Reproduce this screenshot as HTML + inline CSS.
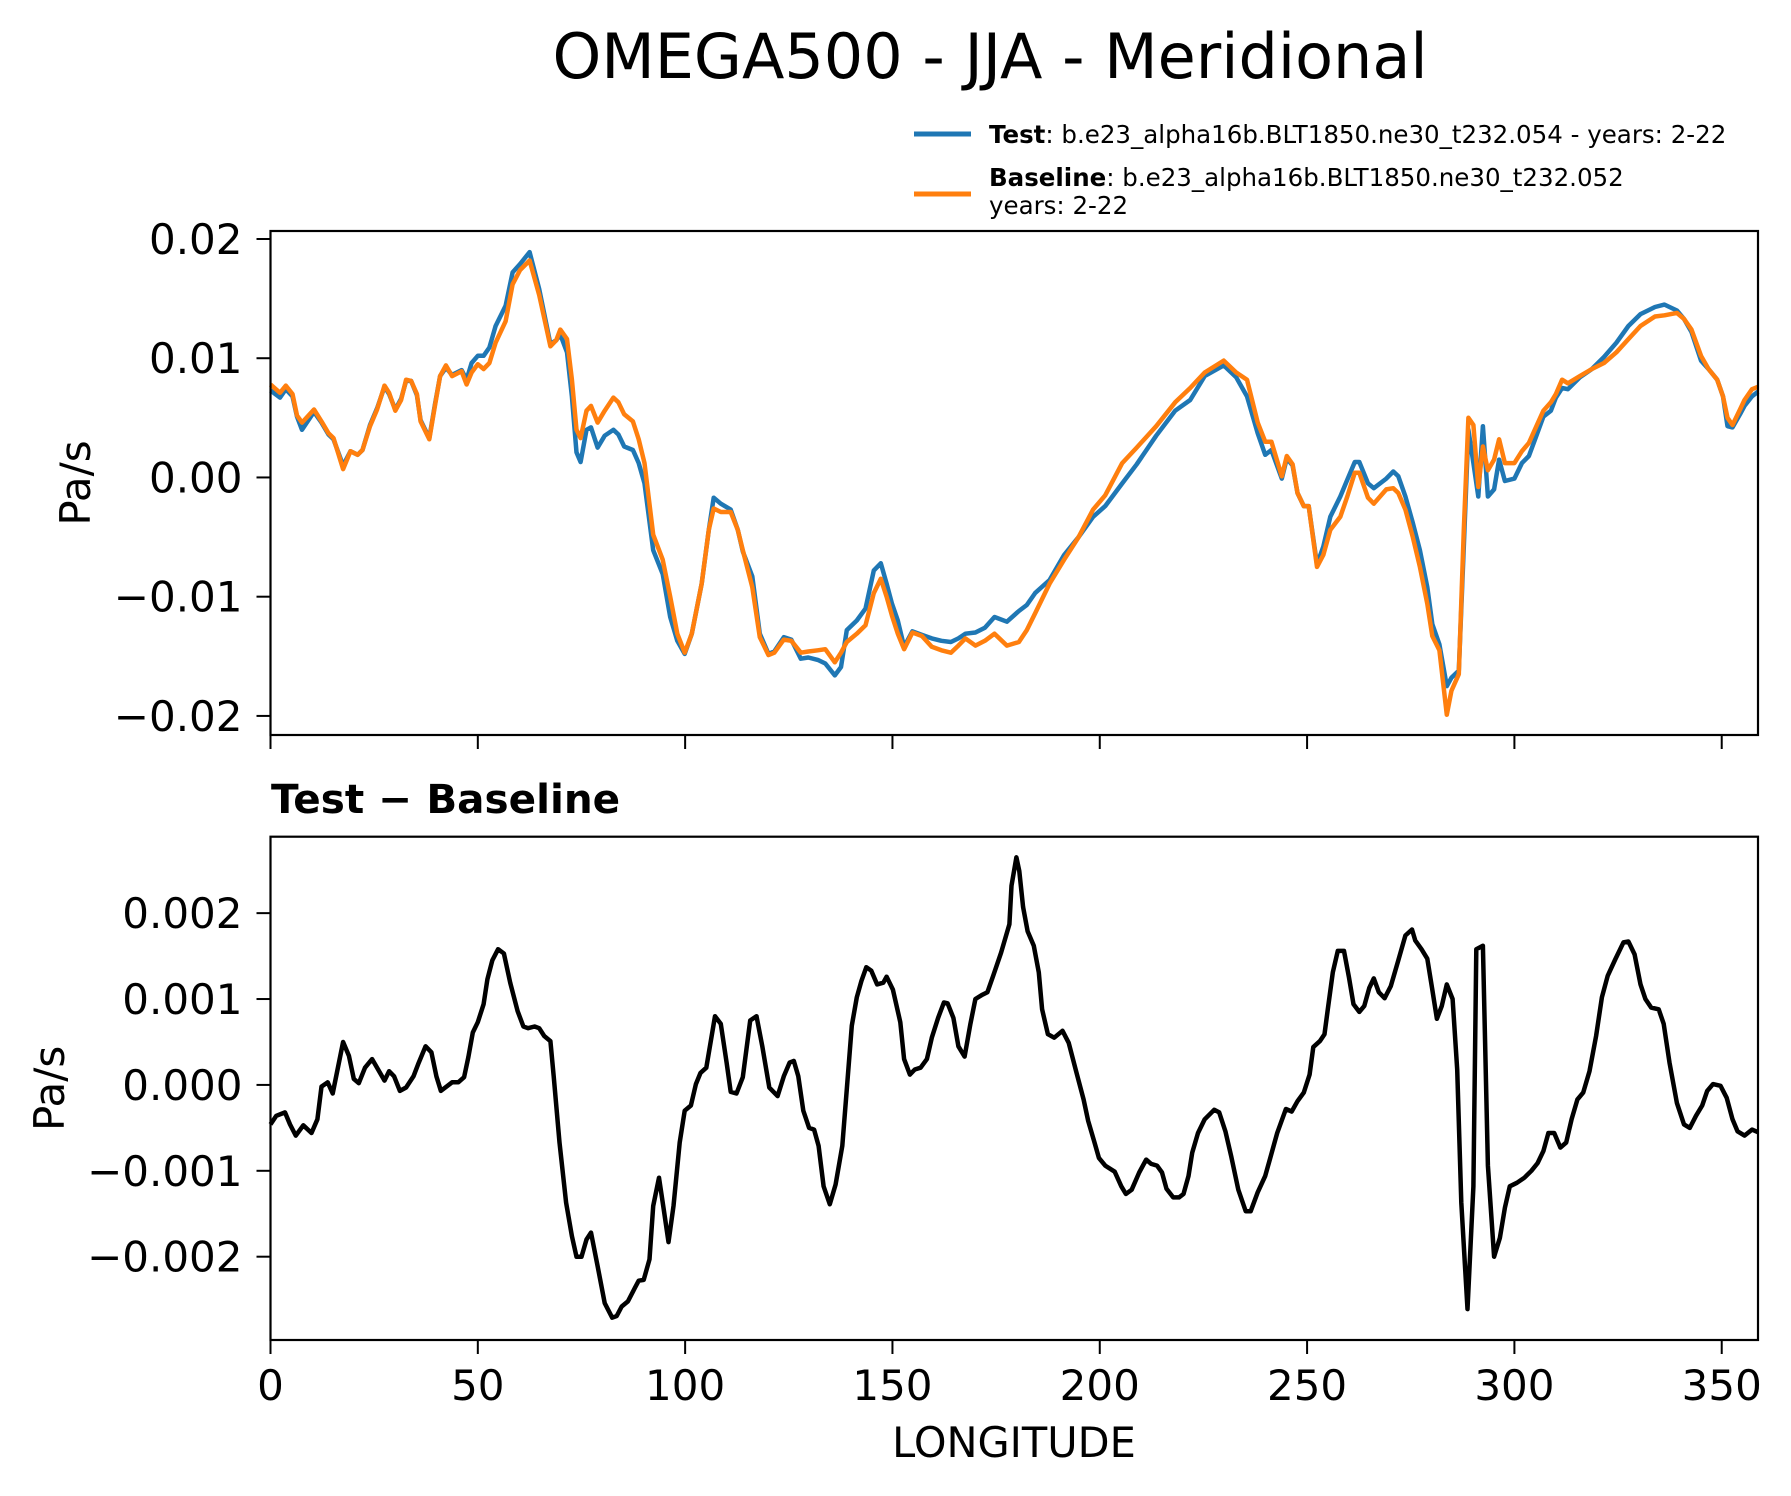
<!DOCTYPE html>
<html><head><meta charset="utf-8"><style>
html,body{margin:0;padding:0;background:#fff;}
svg{display:block;font-family:"DejaVu Sans","Liberation Sans",sans-serif;}
</style></head><body>
<svg id="fig" width="1791" height="1496" viewBox="0 0 1791 1496" xmlns="http://www.w3.org/2000/svg">
<rect width="1791" height="1496" fill="#fff"/>
<text x="990" y="78" font-size="62" text-anchor="middle">OMEGA500 - JJA - Meridional</text>
<g>
<line x1="914" y1="134" x2="971" y2="134" stroke="#1f77b4" stroke-width="5"/>
<text x="989" y="143" font-size="24.5"><tspan font-weight="bold">Test</tspan>: b.e23_alpha16b.BLT1850.ne30_t232.054 - years: 2-22</text>
<line x1="914" y1="194" x2="971" y2="194" stroke="#ff7f0e" stroke-width="5"/>
<text x="989" y="186" font-size="24.5"><tspan font-weight="bold">Baseline</tspan>: b.e23_alpha16b.BLT1850.ne30_t232.052</text>
<text x="989" y="214" font-size="24.5">years: 2-22</text>
</g>
<g id="top"></g>
<g id="bot"></g>
<text x="271" y="813" font-size="40.5" font-weight="bold">Test − Baseline</text>
<text x="1014" y="1457" font-size="41.5" text-anchor="middle">LONGITUDE</text>
</svg>
<script>
const xTicks = [0,50,100,150,200,250,300,350];
const topTicks = [-0.02,-0.01,0,0.01,0.02];
const topTickLabels = ["−0.02","−0.01","0.00","0.01","0.02"];
const botTicks = [-0.002,-0.001,0,0.001,0.002];
const botTickLabels = ["−0.002","−0.001","0.000","0.001","0.002"];
const lonTop = [0,2.3,3.7,5.3,6.4,7.6,10.5,12.3,14,15.2,17.5,19.3,21,22.2,24,25.7,27.5,28.6,30.1,31.5,32.7,33.9,35.3,36.2,38.3,39.7,40.9,42.3,43.8,46.1,47.3,48.5,50,51.4,52.8,54.3,56.7,58.4,60.2,62.5,64.8,67.5,68.9,69.9,71.5,72.7,73.8,74.8,76.2,77.3,78.9,80.6,82.7,83.9,85.3,87.4,88.8,90.2,92.3,94.6,96.4,98.1,99.9,101.6,104,105.7,106.9,108.6,111,112.7,113.9,116.2,118,120.1,121.5,123.8,125.6,127.9,129.7,132,133.8,136.1,137.6,139,141.4,143.5,145.5,147.2,148.6,149.9,151.3,152.8,154.8,157.1,159.5,161.8,164.1,165.9,167.6,170,172.3,174.6,177.6,180.5,182.4,184.4,187.9,191.4,194.9,198.4,201.3,205.4,208.9,213.6,218.2,221.8,225.3,229.9,232.9,235.5,238.1,239.9,241.4,243.9,245.1,246.5,247.7,249.2,250.4,252.4,253.9,255.6,258,259.7,261.5,262.6,264.7,266.1,269.1,270.8,272,273.7,275.5,277.2,279,280.2,281.9,283.7,284.8,286.6,287.8,288.9,290.1,291.3,292.4,293.6,295.1,296.3,297.7,300,301.8,303.5,305.3,307,308.8,310,311.5,312.9,315.8,318.7,321.6,324.6,327.5,330.4,333.9,336.2,339.2,340.9,342.7,345,346.8,348.9,350.3,351.4,352.6,354.4,355.5,357.3,358.75];
const testVals = [7.3,6.7,7.4,6.8,5.1,4.0,5.5,4.6,3.6,3.2,1.0,2.2,1.9,2.3,4.4,5.8,7.6,7.0,5.7,6.6,8.1,8.1,6.9,4.8,3.3,6.2,8.5,9.2,8.6,9.0,8.2,9.6,10.2,10.2,10.9,12.7,14.4,17.2,17.9,18.9,15.8,11.2,11.5,12.0,10.5,6.8,2.1,1.3,4.0,4.2,2.5,3.5,4.0,3.6,2.6,2.3,1.2,-0.5,-6.1,-8.1,-11.7,-13.7,-14.8,-13.1,-8.9,-4.4,-1.7,-2.2,-2.7,-4.4,-6.2,-8.3,-13.1,-14.8,-14.6,-13.4,-13.6,-15.2,-15.1,-15.3,-15.6,-16.6,-15.9,-12.8,-12.0,-11.0,-7.8,-7.2,-8.9,-10.6,-12.0,-14.2,-12.9,-13.2,-13.5,-13.7,-13.8,-13.5,-13.1,-13.0,-12.6,-11.7,-12.1,-11.2,-10.7,-9.7,-8.6,-6.5,-5.0,-3.3,-2.4,-0.5,1.1,3.5,5.6,6.5,8.5,9.4,8.4,6.8,3.7,1.9,2.3,-0.1,1.6,1.0,-1.3,-2.4,-2.4,-7.3,-5.8,-3.3,-1.6,-0.2,1.3,1.3,-0.5,-0.9,-0.1,0.5,0.1,-1.6,-3.8,-6.1,-9.2,-12.3,-14.0,-17.5,-16.8,-16.2,-5.8,4.0,1.2,-1.6,4.3,-1.6,-1.0,1.5,-0.3,-0.1,1.2,1.8,3.5,5.1,5.6,6.7,7.5,7.4,8.4,9.1,10.1,11.3,12.7,13.7,14.3,14.5,14.0,13.3,12.2,9.8,9.1,8.2,6.8,4.3,4.2,5.3,6.0,6.8,7.2];
const baseVals = [7.8,7.1,7.7,7.0,5.2,4.6,5.7,4.7,3.7,3.3,0.7,2.2,1.9,2.3,4.3,5.7,7.7,7.1,5.6,6.5,8.2,8.1,7.0,4.7,3.2,6.1,8.5,9.4,8.5,8.9,7.8,8.8,9.5,9.1,9.6,11.3,13.1,16.2,17.4,18.2,15.3,11.0,11.5,12.4,11.6,8.2,4.0,3.3,5.6,6.0,4.6,5.6,6.7,6.3,5.3,4.7,3.2,1.2,-4.8,-6.9,-10.0,-13.1,-14.7,-13.1,-8.9,-4.4,-2.6,-2.9,-2.9,-4.4,-6.1,-9.2,-13.4,-14.9,-14.7,-13.6,-13.7,-14.7,-14.6,-14.5,-14.4,-15.5,-14.7,-13.8,-13.1,-12.4,-9.7,-8.5,-10.0,-11.6,-13.1,-14.4,-13.0,-13.3,-14.2,-14.5,-14.7,-14.1,-13.5,-14.1,-13.7,-13.1,-14.1,-13.8,-12.8,-11.4,-8.9,-6.9,-5.0,-2.7,-1.5,1.2,2.5,4.3,6.3,7.5,8.8,9.8,8.8,8.2,4.6,3.0,3.0,0.1,1.8,1.1,-1.3,-2.4,-2.4,-7.5,-6.5,-4.4,-3.3,-1.6,0.4,0.4,-1.7,-2.2,-1.0,-0.9,-1.3,-2.7,-5.0,-7.5,-10.6,-13.3,-14.5,-19.9,-17.9,-16.5,-4.4,5.0,4.4,-0.8,2.6,0.6,1.5,3.2,1.2,1.2,2.2,2.9,4.3,5.6,6.3,7.0,8.2,7.9,8.5,9.1,9.6,10.5,11.6,12.7,13.5,13.6,13.8,13.3,12.4,10.2,9.1,8.2,6.8,5.0,4.4,5.7,6.5,7.4,7.6];
const lonDiff = [0,1.4,3.5,4.7,6.1,7.9,9.9,11.3,12.3,13.8,15,17.5,18.9,20.1,21.3,22.8,24.5,27.5,28.6,29.8,31.2,32.7,34.5,35.6,37.4,38.8,40,41.1,43.8,45.3,46.7,47.7,48.8,50,51.4,52.3,53.5,54.9,56.3,57.8,59.6,61,62.1,63.7,64.8,66,67.5,68.3,69.7,71.3,72.7,73.8,75,76.2,77.3,78.9,80.6,82.4,83.5,84.7,86.2,87.9,88.8,90,91.4,92.3,93.7,94.9,96,97.2,98.7,99.9,101.4,102.6,103.7,105.1,107.2,108.6,110,111,112.4,113.9,115.7,117.2,118.6,120.3,122.3,123.8,125.2,126.2,127.3,128.5,129.9,131.1,132.2,133.4,134.9,136.3,137.9,139,140.2,141.4,142.5,143.7,144.9,146.3,147.8,148.6,150.1,151.9,152.8,154.2,155.4,156.8,158.3,159.5,161,162.4,163.3,164.7,165.9,167.4,168.8,170,171.7,172.9,174.3,176.2,178.2,178.7,179.9,180.6,181.5,182.6,184.1,185.3,186.1,187.5,189,191,192.5,194.3,196.1,197.2,198.6,199.8,201.3,203.6,205.2,206.3,207.7,209.5,211.2,212.4,213.8,215,216.1,217.7,219.1,220.2,221.4,222.3,223.7,225.3,227.6,228.8,230.3,231.7,233.4,235.2,236.4,238.1,239.9,241,242.8,244.9,246.3,247.7,249.2,250.6,251.5,253.1,254.2,255,256.2,257.4,258.9,260.1,261.2,262.6,263.8,265,266.1,267.3,268.7,270.2,272,273.7,275.3,276.1,277.6,279,280.2,281.3,282.5,283.7,285.1,286.2,287.2,288.7,290.1,290.8,292.4,293.6,295.1,296.5,297.7,298.9,300.6,302.4,304.1,305.6,307,308.2,309.6,311.1,312.5,313.8,315.2,316.6,318.1,319.7,321.1,322.5,324.3,326.3,327.5,329,330.4,331.6,333,334.8,336,337.4,339.2,340.9,342.3,343.8,345.3,346.5,347.9,349.7,351.2,352.6,353.8,355.5,357.3,358.75];
const diffVals = [-0.46,-0.36,-0.32,-0.46,-0.59,-0.47,-0.56,-0.40,-0.02,0.03,-0.10,0.50,0.34,0.07,0.02,0.20,0.30,0.05,0.16,0.10,-0.07,-0.03,0.10,0.24,0.45,0.38,0.10,-0.07,0.03,0.03,0.09,0.32,0.61,0.73,0.94,1.23,1.45,1.58,1.53,1.19,0.86,0.68,0.66,0.68,0.66,0.57,0.51,0.10,-0.67,-1.37,-1.76,-2.00,-2.00,-1.80,-1.72,-2.11,-2.54,-2.71,-2.69,-2.58,-2.52,-2.36,-2.28,-2.27,-2.03,-1.41,-1.08,-1.47,-1.83,-1.41,-0.67,-0.30,-0.24,0.01,0.14,0.20,0.80,0.71,0.26,-0.08,-0.10,0.09,0.75,0.80,0.45,-0.03,-0.13,0.10,0.26,0.28,0.10,-0.30,-0.50,-0.52,-0.71,-1.18,-1.39,-1.16,-0.71,-0.05,0.69,1.02,1.21,1.37,1.33,1.17,1.19,1.26,1.11,0.73,0.30,0.12,0.18,0.20,0.30,0.55,0.78,0.96,0.95,0.78,0.45,0.33,0.71,1.00,1.05,1.08,1.27,1.54,1.87,2.32,2.65,2.49,2.07,1.79,1.62,1.31,0.88,0.59,0.55,0.63,0.49,0.16,-0.17,-0.42,-0.65,-0.85,-0.94,-1.01,-1.18,-1.27,-1.22,-1.02,-0.87,-0.92,-0.94,-1.02,-1.21,-1.31,-1.31,-1.27,-1.06,-0.79,-0.56,-0.40,-0.29,-0.32,-0.54,-0.83,-1.22,-1.47,-1.47,-1.25,-1.06,-0.87,-0.56,-0.28,-0.31,-0.19,-0.09,0.12,0.44,0.51,0.59,0.88,1.31,1.56,1.56,1.25,0.94,0.85,0.92,1.13,1.24,1.08,1.01,1.15,1.45,1.74,1.81,1.68,1.58,1.47,1.11,0.77,0.92,1.17,1.00,0.18,-1.37,-2.61,-1.18,1.58,1.62,-0.94,-2.00,-1.78,-1.43,-1.18,-1.14,-1.08,-1.00,-0.91,-0.77,-0.56,-0.56,-0.73,-0.67,-0.40,-0.17,-0.09,0.16,0.57,1.02,1.27,1.46,1.66,1.67,1.52,1.17,1.00,0.90,0.88,0.71,0.26,-0.21,-0.46,-0.50,-0.36,-0.24,-0.07,0.01,-0.01,-0.15,-0.40,-0.54,-0.59,-0.52,-0.55];

const NS = "http://www.w3.org/2000/svg";
const X0 = 270.5, X1 = 1758, XMAX = 358.75;
const FS = 42;
function xs(l){ return X0 + (l / XMAX) * (X1 - X0); }
function mk(tag, attrs, parent){
  const e = document.createElementNS(NS, tag);
  for (const k in attrs) e.setAttribute(k, attrs[k]);
  parent.appendChild(e);
  return e;
}
function axes(g, top, bottom, ymin, ymax, ticks, labels, withXLabels, prefix){
  const ys = v => bottom - (v - ymin) / (ymax - ymin) * (bottom - top);
  ticks.forEach((t, i) => {
    const y = ys(t);
    const tk = mk('line', {x1: X0 - 14, x2: X0, y1: y, y2: y, stroke: '#000', 'stroke-width': 2}, g);
    
    
    const tx = mk('text', {x: X0 - 28, y: y + 15, 'font-size': FS, 'text-anchor': 'end'}, g);
    tx.textContent = labels[i];
    
    
  });
  xTicks.forEach(t => {
    const x = xs(t);
    const tk = mk('line', {x1: x, x2: x, y1: bottom, y2: bottom + 14, stroke: '#000', 'stroke-width': 2}, g);
    
    
    if (withXLabels) {
      const tx = mk('text', {x: x, y: bottom + 60, 'font-size': FS, 'text-anchor': 'middle'}, g);
      tx.textContent = String(t);
      
      
    }
  });
  const yl = mk('text', {x: 0, y: 0, 'font-size': FS, 'text-anchor': 'middle',
    transform: 'translate(' + (prefix === 'top' ? 90 : 64) + ',' + ((top + bottom) / 2) + ') rotate(-90)'}, g);
  yl.textContent = 'Pa/s';
  
  
  return ys;
}
function series(g, lons, vals, scale, ys, color, name){
  const d = lons.map((l, i) => (i ? 'L' : 'M') + xs(l).toFixed(1) + ',' + ys(vals[i] * scale).toFixed(1)).join('');
  const p = mk('path', {d: d, fill: 'none', stroke: color, 'stroke-width': 4.5, 'stroke-linejoin': 'round'}, g);
  
  
}
function frame(g, top, bottom, prefix){
  const r = mk('rect', {x: X0, y: top, width: X1 - X0, height: bottom - top, fill: 'none', stroke: '#000', 'stroke-width': 2.2}, g);
  
  
}
const gt = document.getElementById('top');
const ysT = axes(gt, 231, 735, -0.0216, 0.02067, topTicks, topTickLabels, false, 'top');
series(gt, lonTop, testVals, 0.001, ysT, '#1f77b4', 'test-line');
series(gt, lonTop, baseVals, 0.001, ysT, '#ff7f0e', 'baseline-line');
frame(gt, 231, 735, 'top');
const gb = document.getElementById('bot');
const ysB = axes(gb, 836.7, 1340, -0.00297, 0.00289, botTicks, botTickLabels, true, 'bottom');
series(gb, lonDiff, diffVals, 0.001, ysB, '#000', 'difference-line');
frame(gb, 836.7, 1340, 'bottom');
</script>
</body></html>
